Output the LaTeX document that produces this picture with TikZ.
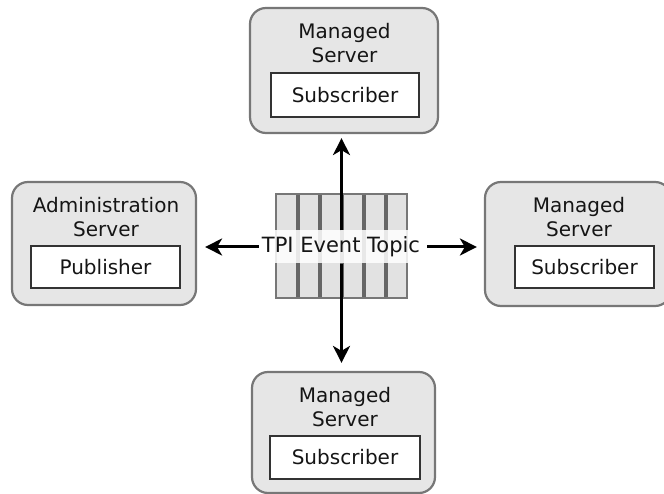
\documentclass[tikz,border=0pt]{standalone}
\usepackage{fontspec}
\setmainfont{DejaVu Sans}
\usetikzlibrary{arrows.meta}
\definecolor{boxfill}{HTML}{E6E6E6}
\definecolor{boxline}{HTML}{777777}
\definecolor{cellfill}{HTML}{E2E2E2}
\definecolor{barcol}{HTML}{666666}
\definecolor{txt}{HTML}{151515}
\tikzset{
  server/.style={draw=boxline, line width=2.2pt, fill=boxfill, rounded corners=16pt, inner sep=0pt},
  title/.style={anchor=north, align=center, inner sep=0pt, font=\fontsize{20}{24.5}\selectfont, text=txt},
  role/.style={draw=black!80, line width=1.4pt, fill=white, inner sep=0pt, font=\fontsize{20}{24}\selectfont, text=txt},
  topicbox/.style={draw=boxline, line width=2pt, fill=cellfill, inner sep=0pt},
  bar/.style={draw=barcol, line width=4pt},
  topiclabel/.style={fill=white, fill opacity=0.85, text opacity=1, inner xsep=3pt, inner ysep=0pt, minimum height=33pt, font=\fontsize{21}{25}\selectfont, text=txt},
  flow/.style={draw=black, line width=3pt, -{Stealth[length=17pt,width=17pt,inset=5pt]}},
}
\begin{document}
\begin{tikzpicture}[x=1pt,y=-1pt]
\useasboundingbox (0,0) rectangle (664,494);
\clip (0,0) rectangle (664,494);

% top managed server
\node[server, minimum width=188pt, minimum height=125pt] (ms1) at (344,70.5) {};
\node[title] (ms1t) at (344.5,23) {Managed\\Server};
\node[role, minimum width=148pt, minimum height=44pt] (ms1r) at (345,95) {Subscriber};

% administration server
\node[server, minimum width=184pt, minimum height=123pt] (as) at (104,243.5) {};
\node[title] (ast) at (106,197) {Administration\\Server};
\node[role, minimum width=149pt, minimum height=42pt] (asr) at (105.5,267) {Publisher};

% right managed server
\node[server, minimum width=186pt, minimum height=124pt] (ms2) at (578,244) {};
\node[title] (ms2t) at (579,197) {Managed\\Server};
\node[role, minimum width=139pt, minimum height=42pt] (ms2r) at (584.5,267) {Subscriber};

% bottom managed server
\node[server, minimum width=183pt, minimum height=121pt] (ms3) at (343.5,432.5) {};
\node[title] (ms3t) at (345,387) {Managed\\Server};
\node[role, minimum width=150pt, minimum height=43pt] (ms3r) at (345,457.5) {Subscriber};

% topic
\node[topicbox, minimum width=131pt, minimum height=104pt] (topic) at (341.5,246) {};
\foreach \x in {298,320,342,364,386} \draw[bar] (\x,195) -- (\x,297);
\node[topiclabel] (tl) at (341,247) {TPI Event Topic};

% connectors
\draw[flow, shorten >=4pt] (topic.center |- tl.north) -- (topic.center |- ms1.south);
\draw[flow, shorten >=8pt] (topic.center |- tl.south) -- (topic.center |- ms3.north);
\draw[flow, shorten >=8pt] (tl.west) -- (tl.west -| as.east);
\draw[flow, shorten >=7pt, shorten <=4pt] (tl.east) -- (tl.east -| ms2.west);
\end{tikzpicture}
\end{document}
